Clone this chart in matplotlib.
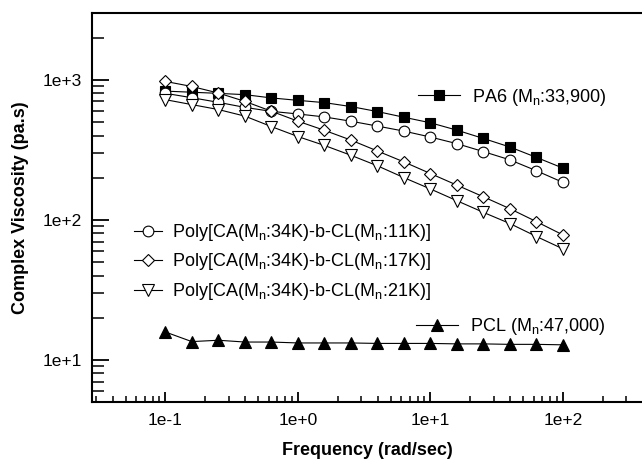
import matplotlib
matplotlib.use("Agg")
import matplotlib.pyplot as plt
from matplotlib.ticker import FuncFormatter, LogLocator, NullFormatter
import numpy as np

# angular frequency (rad/s), 5 points per decade
freq = [0.1, 0.158, 0.251, 0.398, 0.631, 1.0, 1.58, 2.51, 3.98, 6.31,
        10.0, 15.8, 25.1, 39.8, 63.1, 100.0]

# complex viscosity (Pa.s)
pa6 = [830, 815, 800, 783, 742, 713, 687, 644, 593, 540, 493, 437, 381, 331, 279, 234]
cl11 = [800, 745, 690, 635, 595, 570, 543, 506, 467, 430, 390, 350, 307, 268, 224, 185]
cl17 = [973, 896, 804, 701, 596, 506, 436, 371, 310, 259, 214, 177, 146, 120, 97, 78]
cl21 = [721, 665, 613, 550, 463, 393, 340, 289, 243, 200, 166, 137, 113, 94, 76, 62]
pcl = [15.8, 13.5, 13.8, 13.4, 13.4, 13.2, 13.2, 13.2, 13.1, 13.1, 13.1, 13.0,
       13.0, 12.9, 12.9, 12.8]

lbl_pa6 = r"PA6 (M$_{\rm n}$:33,900)"
lbl_11 = r"Poly[CA(M$_{\rm n}$:34K)-b-CL(M$_{\rm n}$:11K)]"
lbl_17 = r"Poly[CA(M$_{\rm n}$:34K)-b-CL(M$_{\rm n}$:17K)]"
lbl_21 = r"Poly[CA(M$_{\rm n}$:34K)-b-CL(M$_{\rm n}$:21K)]"
lbl_pcl = r"PCL (M$_{\rm n}$:47,000)"

plt.rcParams.update({
    "font.family": ["Liberation Sans", "DejaVu Sans"],
    "mathtext.fontset": "custom",
    "mathtext.rm": "Liberation Sans",
    "mathtext.it": "Liberation Sans:italic",
    "mathtext.bf": "Liberation Sans:bold",
})

fig = plt.figure(figsize=(6.42, 4.65), dpi=100)
ax = fig.add_axes([0.1433, 0.1355, 0.8567, 0.8366])

LW = 0.8
MEW = 0.8
h_pa6, = ax.plot(freq, pa6, "-", color="black", lw=LW, marker="s", ms=7.2,
                 mfc="black", mec="black", mew=MEW)
h_11, = ax.plot(freq, cl11, "-", color="black", lw=LW, marker="o", ms=7.7,
                mfc="white", mec="black", mew=MEW)
h_17, = ax.plot(freq, cl17, "-", color="black", lw=LW, marker="D", ms=6.4,
                mfc="white", mec="black", mew=MEW)
h_21, = ax.plot(freq, cl21, "-", color="black", lw=LW, marker="v", ms=8.4,
                mfc="white", mec="black", mew=MEW)
h_pcl, = ax.plot(freq, pcl, "-", color="black", lw=LW, marker="^", ms=8.4,
                 mfc="black", mec="black", mew=MEW)

ax.set_xscale("log")
ax.set_yscale("log")
ax.set_xlim(0.0279, 395)
ax.set_ylim(5, 3000)


def sci(v, pos):
    return f"1e{int(round(np.log10(v))):+d}"


for axis in (ax.xaxis, ax.yaxis):
    axis.set_major_locator(LogLocator(base=10))
    axis.set_minor_locator(LogLocator(base=10, subs=np.arange(2, 10)))
    axis.set_major_formatter(FuncFormatter(sci))
    axis.set_minor_formatter(NullFormatter())

# the frame is open on the right: the top line runs off the edge
ax.spines["right"].set_visible(False)
for s in ("left", "top", "bottom"):
    ax.spines[s].set_linewidth(1.5)

ax.tick_params(which="both", direction="in", top=False, right=False,
               labelsize=12.5, colors="black")
ax.tick_params(axis="y", which="major", length=12, width=1.3, pad=7)
ax.tick_params(axis="y", which="minor", length=8.5, width=1.1)
ax.tick_params(axis="x", which="major", length=7.5, width=1.3, pad=8)
ax.tick_params(axis="x", which="minor", length=4.5, width=1.1)

ax.set_xlabel("Frequency (rad/sec)", fontsize=13, fontweight="bold")
ax.set_ylabel("Complex Viscosity (pa.s)", fontsize=13, fontweight="bold")
ax.xaxis.set_label_coords(0.5, -0.102)
ax.yaxis.set_label_coords(-0.1145, 0.5)

leg_kw = dict(frameon=False, fontsize=13, borderpad=0, borderaxespad=0,
              numpoints=1, loc="center left")

leg1 = ax.legend([h_pa6], [lbl_pa6], bbox_to_anchor=(0.5927, 0.784),
                 handlelength=2.33, handletextpad=0.67, **leg_kw)
ax.add_artist(leg1)
leg2 = ax.legend([h_11, h_17, h_21], [lbl_11, lbl_17, lbl_21],
                 bbox_to_anchor=(0.0764, 0.3600), handlelength=1.55,
                 handletextpad=0.55, labelspacing=0.47, **leg_kw)
ax.add_artist(leg2)
ax.legend([h_pcl], [lbl_pcl], bbox_to_anchor=(0.589, 0.193),
          handlelength=2.33, handletextpad=0.67, **leg_kw)

fig.savefig("out.png", dpi=100)
